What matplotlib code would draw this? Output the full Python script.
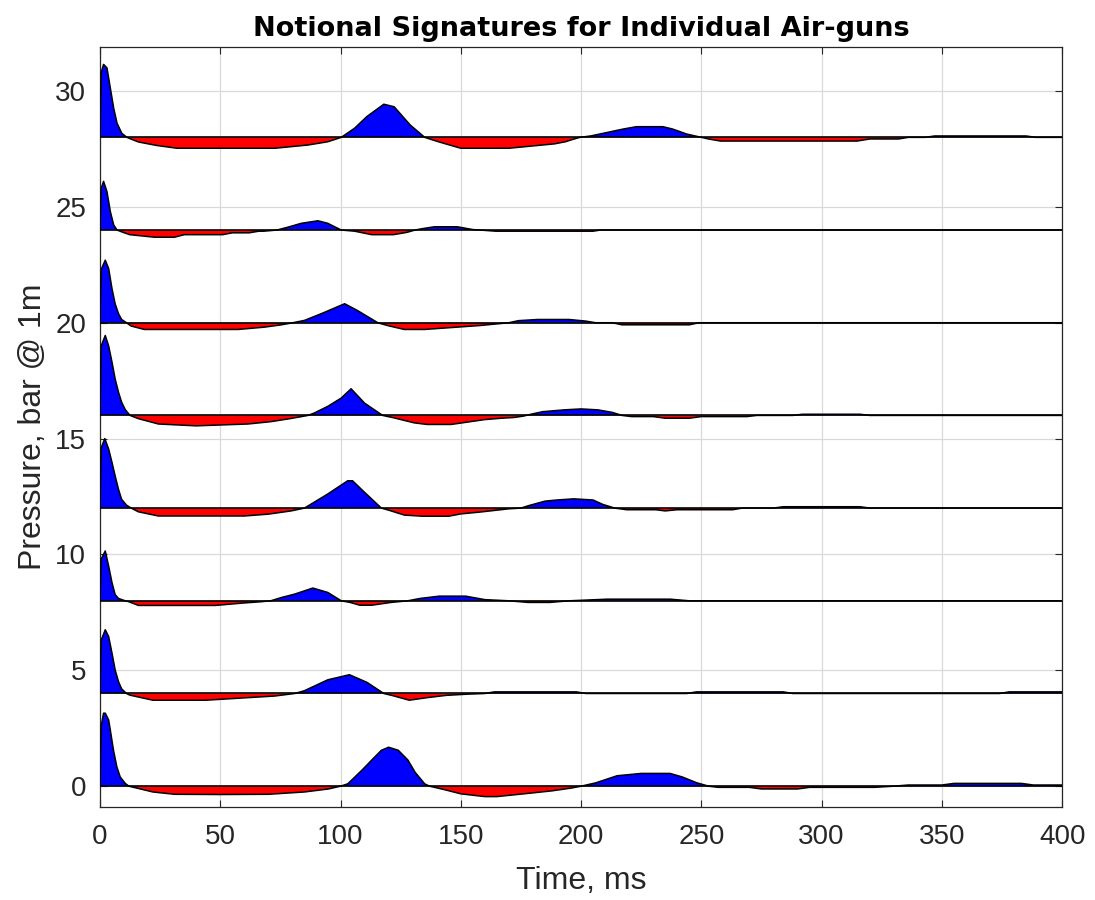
import numpy as np
import matplotlib
matplotlib.use("Agg")
import matplotlib.pyplot as plt

plt.rcParams['font.family'] = ['Liberation Sans', 'DejaVu Sans']

# trace offsets on the plot (bar)
offsets = [0, 4, 8, 12, 16, 20, 24, 28]

# notional signatures (time in ms, pressure in bar @ 1m)
t_gun1 = [0, 0.5, 1.5, 2.2, 3.6, 4.3, 5.6, 7.0, 8.4, 10.5, 12, 16, 22, 31, 50, 70, 85, 95,
          100, 103, 106, 109, 113, 117, 120, 124, 128, 131, 135, 137, 144, 150, 160, 165, 179,
          188, 196, 200, 206, 215, 225, 237, 242, 248, 253, 257, 270, 275, 290, 295, 322, 330,
          336, 350, 355, 383, 388, 400]
p_gun1 = [0, 2.6, 3.15, 3.15, 2.86, 2.42, 1.56, 0.84, 0.40, 0.12, 0, -0.1, -0.25, -0.35, -0.36,
          -0.35, -0.25, -0.12, 0, 0.1, 0.40, 0.7, 1.13, 1.55, 1.68, 1.55, 1.13, 0.6, 0.1, 0, -0.17,
          -0.33, -0.45, -0.45, -0.3, -0.2, -0.08, 0, 0.14, 0.45, 0.55, 0.55, 0.4, 0.15, 0, -0.05,
          -0.05, -0.12, -0.12, -0.05, -0.05, 0, 0.05, 0.05, 0.12, 0.12, 0.05, 0.05]

t_gun2 = [0, 0.5, 2.2, 3.6, 5, 6.3, 7.7, 9, 11, 12.4, 22, 44, 63, 72.6, 81, 85, 94.7, 103.7,
          111, 118, 122, 128.6, 136, 144, 152.6, 160, 164, 198, 202, 244, 248, 284, 288, 374,
          378, 400]
p_gun2 = [0, 2.3, 2.75, 2.46, 1.74, 1.02, 0.51, 0.2, 0, -0.07, -0.29, -0.29, -0.17, -0.11, 0,
          0.12, 0.59, 0.81, 0.48, 0, -0.1, -0.29, -0.18, -0.08, -0.03, 0, 0.07, 0.07, 0, 0, 0.07,
          0.07, 0, 0, 0.07, 0.07]

t_gun3 = [0, 0.5, 2.2, 3.6, 5, 6.3, 7.7, 10.5, 12, 16, 48, 59, 67, 71, 75.4, 81, 88.5, 94.7,
          100.3, 104, 108, 113, 121, 128, 133, 141, 152, 160, 170, 178, 187, 195, 211, 237, 245,
          400]
p_gun3 = [0, 1.8, 2.15, 1.5, 0.78, 0.27, 0.1, 0, -0.04, -0.2, -0.2, -0.1, -0.04, 0, 0.14, 0.29,
          0.55, 0.36, 0, -0.07, -0.19, -0.19, -0.07, 0, 0.1, 0.2, 0.2, 0.05, 0, -0.07, -0.07, 0,
          0.07, 0.07, 0, 0]

t_gun4 = [0, 0.5, 2.0, 3.6, 5, 6.3, 7.7, 9, 11, 13, 16, 24.3, 60, 70, 79.5, 85, 89, 94.7, 103,
          105, 110, 117, 121, 126.5, 134, 145, 150, 158, 164, 170, 175, 178, 185, 190, 197, 205,
          209, 214, 219, 231, 235, 240, 263, 267, 280, 284, 316, 320, 400]
p_gun4 = [0, 2.6, 3.0, 2.55, 1.97, 1.39, 0.81, 0.38, 0.13, 0, -0.16, -0.34, -0.34, -0.26, -0.12,
          0, 0.25, 0.61, 1.18, 1.18, 0.68, 0, -0.12, -0.3, -0.35, -0.35, -0.25, -0.17, -0.1,
          -0.03, 0, 0.1, 0.3, 0.35, 0.4, 0.35, 0.16, 0, -0.07, -0.07, -0.12, -0.07, -0.07, 0, 0,
          0.06, 0.06, 0, 0]

t_gun5 = [0, 0.5, 2.2, 3.6, 5, 6.3, 7.7, 9, 10.5, 12.5, 16, 24.3, 40, 61.5, 71, 79.5, 86.5, 89,
          94.7, 100.3, 104.4, 110, 117.5, 122, 130.6, 136, 146, 152.6, 160, 167, 172, 176, 180,
          184, 193, 200, 207, 213, 217, 221, 230, 235, 245, 250, 269, 273, 288, 292, 316, 320,
          400]
p_gun5 = [0, 3.0, 3.45, 3.0, 2.3, 1.58, 1.0, 0.57, 0.25, 0, -0.14, -0.37, -0.45, -0.37, -0.27,
          -0.13, 0, 0.1, 0.39, 0.75, 1.15, 0.53, 0, -0.1, -0.32, -0.39, -0.39, -0.29, -0.18,
          -0.12, -0.09, -0.03, 0.07, 0.16, 0.24, 0.28, 0.24, 0.13, 0, -0.05, -0.05, -0.12, -0.12,
          -0.05, -0.05, 0, 0, 0.05, 0.05, 0, 0]

t_gun6 = [0, 0.5, 2.2, 3.6, 5, 6.3, 7.7, 9, 11, 12.9, 18.4, 57.4, 68.4, 75.4, 80.2, 85, 92,
          101.7, 107, 115.5, 119.5, 126.5, 135, 148.5, 158, 165, 170, 174, 182, 195, 202, 206,
          213, 217, 245, 249, 400]
p_gun6 = [0, 2.3, 2.7, 2.34, 1.47, 0.82, 0.39, 0.14, 0, -0.14, -0.29, -0.29, -0.19, -0.09, 0,
          0.1, 0.39, 0.82, 0.53, 0, -0.12, -0.29, -0.29, -0.19, -0.12, -0.05, 0, 0.09, 0.14,
          0.14, 0.07, 0, 0, -0.09, -0.09, 0, 0]

t_gun7 = [0, 0.5, 1.5, 2.9, 4.3, 5.7, 7.1, 9.6, 12.4, 22.7, 31, 35, 51, 55, 62, 66, 68, 73.6,
          78, 83.7, 90.6, 94.7, 100.3, 105.9, 113, 122, 127.6, 131, 134, 139, 148.6, 155, 158,
          164.6, 205, 208, 400]
p_gun7 = [0, 1.8, 2.1, 1.66, 0.8, 0.22, 0, -0.1, -0.2, -0.31, -0.31, -0.2, -0.2, -0.12, -0.12,
          -0.05, -0.05, 0, 0.12, 0.29, 0.4, 0.29, 0, -0.05, -0.2, -0.2, -0.1, 0, 0.06, 0.14,
          0.14, 0.02, 0, -0.05, -0.05, 0, 0]

t_gun8 = [0, 0.5, 1.5, 2.9, 4.3, 5.7, 7.1, 9.1, 11.2, 13.3, 16, 23.6, 32, 72.7, 86.5, 94.7,
          100.3, 105.8, 111, 118, 122.3, 129, 135, 140.7, 150, 170, 182, 189, 193.5, 196.5,
          199.5, 204, 209, 217.6, 223, 234, 238, 244, 250, 253, 258, 314.7, 320, 332, 336, 343,
          347, 385, 389, 400]
p_gun8 = [0, 2.8, 3.15, 3.0, 2.13, 1.26, 0.61, 0.17, 0, -0.09, -0.2, -0.35, -0.47, -0.47,
          -0.33, -0.19, 0, 0.39, 0.9, 1.43, 1.32, 0.53, 0, -0.19, -0.47, -0.47, -0.35, -0.28,
          -0.19, -0.09, 0, 0.06, 0.17, 0.36, 0.46, 0.46, 0.36, 0.14, 0, -0.07, -0.16, -0.16,
          -0.07, -0.07, 0, 0, 0.06, 0.06, 0, 0]

times = [t_gun1, t_gun2, t_gun3, t_gun4, t_gun5, t_gun6, t_gun7, t_gun8]
sigs = [p_gun1, p_gun2, p_gun3, p_gun4, p_gun5, p_gun6, p_gun7, p_gun8]

fig = plt.figure(figsize=(10.95, 9), dpi=100)
ax = fig.add_axes([0.0913, 0.1033, 0.8787, 0.8445])

for off, t, p in zip(offsets, times, sigs):
    t = np.array(t, dtype=float)
    p = np.array(p, dtype=float)
    y = p + off
    ax.fill_between(t, off, y, where=p >= 0, interpolate=True, color='blue', lw=0, zorder=2)
    ax.fill_between(t, off, y, where=p <= 0, interpolate=True, color='red', lw=0, zorder=2)
    ax.plot(t, y, color='black', lw=1.1, zorder=3)
    ax.plot([0, 400], [off, off], color='black', lw=1.2, zorder=3)

ax.set_xlim(0, 400)
ax.set_ylim(-0.9, 31.9)
ax.set_xticks(np.arange(0, 401, 50))
ax.set_yticks(np.arange(0, 31, 5))
ax.grid(True, color='#d9d9d9', lw=0.9, zorder=0)
ax.set_axisbelow(True)
ax.tick_params(direction='in', top=True, right=True, length=5, width=0.8,
               labelsize=20, colors='#262626')
ax.tick_params(axis='x', pad=12)
ax.tick_params(axis='y', pad=10)
for s in ax.spines.values():
    s.set_color('#262626')
    s.set_linewidth(0.9)

ax.set_title('Notional Signatures for Individual Air-guns', fontsize=19.5, fontweight='bold',
             family=['DejaVu Sans'], pad=8)
ax.set_xlabel('Time, ms', fontsize=23, color='#262626', labelpad=12)
ax.set_ylabel('Pressure, bar @ 1m', fontsize=23, color='#262626', labelpad=5)

fig.savefig('out.png', dpi=100)
